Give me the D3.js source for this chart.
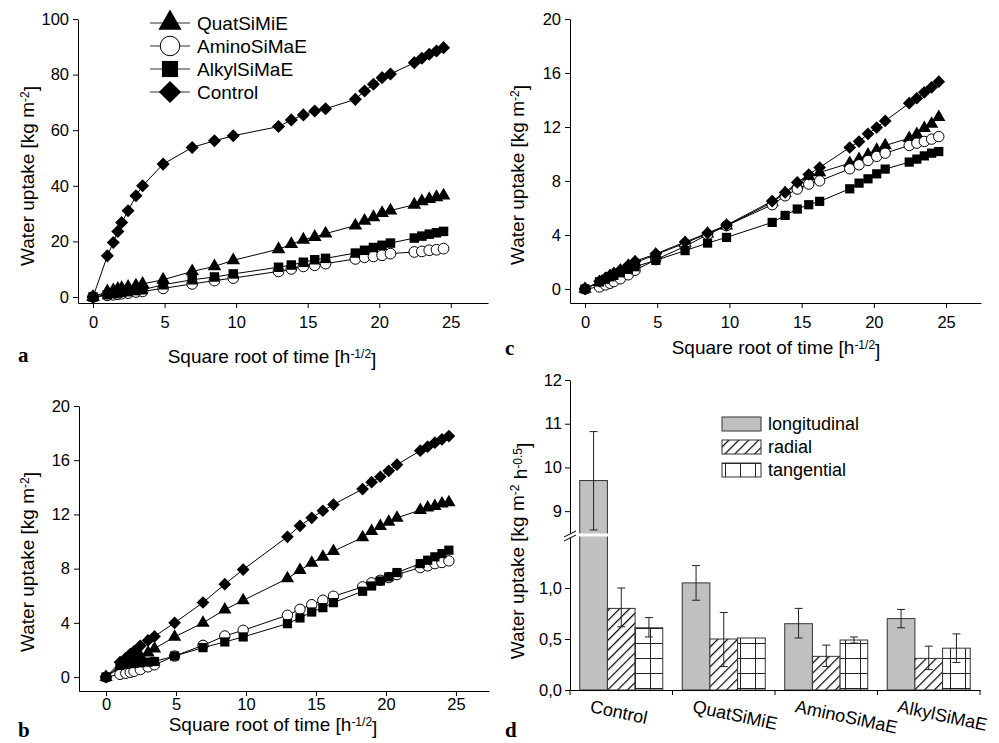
<!DOCTYPE html>
<html>
<head>
<meta charset="utf-8">
<script src="https://cdn.jsdelivr.net/npm/d3@7"></script>
<style>
  body { margin: 0; background: #fff; }
  svg { font-family: "Liberation Sans", Arial, sans-serif; }
</style>
</head>
<body>
<div id="chart"></div>
<script>
// square root of time, same sampling in panels a-c
var sqrtTime = [0, 1, 1.414, 1.732, 2, 2.449, 3, 3.464, 4.899, 6.928, 8.485, 9.798, 12.961, 13.856,
    14.697, 15.492, 16.248, 18.33, 18.974, 19.596, 20.199, 20.785, 22.45, 22.978, 23.495, 24, 24.495];

// panel a (longitudinal)
var aQuat = [0, 2.0, 2.4, 2.9, 3.2, 3.6, 4.1, 4.7, 6.2, 9.2, 11.0, 13.2, 17.2, 19.0, 20.6, 21.6, 22.8, 25.7, 27.4, 28.7, 30.2, 31.1, 33.2, 34.4, 35.2, 35.9, 36.5];
var aAmino = [0, 0.6, 0.8, 1.0, 1.2, 1.4, 1.8, 2.0, 3.1, 4.7, 5.9, 6.8, 9.2, 10.1, 11.0, 11.4, 12.0, 13.7, 14.3, 14.6, 15.0, 15.6, 16.2, 16.4, 16.8, 17.0, 17.4];
var aAlkyl = [0, 0.8, 1.2, 1.4, 1.7, 1.9, 2.3, 2.6, 4.4, 6.2, 7.2, 8.3, 10.7, 11.5, 12.5, 13.4, 13.9, 15.8, 16.8, 17.8, 18.6, 19.4, 21.2, 21.9, 22.6, 23.1, 23.6];
var aControl = [0, 14.8, 19.6, 23.6, 26.8, 31.0, 36.4, 40.0, 47.8, 53.8, 56.2, 58.0, 61.3, 63.7, 65.5, 66.9, 67.7, 71.1, 74.1, 76.5, 78.9, 80.2, 84.3, 85.9, 87.3, 88.5, 89.7];

// panel b (radial)
var bQuat = [0, 0.7, 0.95, 1.15, 1.3, 1.55, 1.8, 2.1, 2.96, 4.0, 4.97, 5.66, 7.27, 7.88, 8.42, 8.87, 9.29, 10.3, 10.76, 11.13, 11.45, 11.75, 12.32, 12.5, 12.6, 12.8, 12.88];
var bAmino = [0, 0.2, 0.28, 0.35, 0.42, 0.55, 0.75, 0.9, 1.55, 2.34, 3.03, 3.45, 4.56, 5.0, 5.34, 5.67, 5.96, 6.65, 6.95, 7.14, 7.34, 7.56, 8.08, 8.2, 8.37, 8.45, 8.57];
var bAlkyl = [0, 0.85, 0.95, 1.0, 1.0, 1.05, 1.1, 1.15, 1.55, 2.17, 2.59, 2.96, 3.94, 4.36, 4.8, 5.12, 5.49, 6.33, 6.72, 7.09, 7.39, 7.71, 8.37, 8.62, 8.87, 9.11, 9.36];
var bControl = [0, 1.1, 1.4, 1.7, 1.9, 2.3, 2.7, 3.0, 4.0, 5.5, 6.85, 7.93, 10.35, 11.16, 11.75, 12.27, 12.73, 13.87, 14.38, 14.78, 15.22, 15.67, 16.7, 17.0, 17.29, 17.54, 17.78];

// panel c (tangential)
var cQuat = [0, 0.5, 0.75, 0.95, 1.1, 1.35, 1.7, 1.95, 2.54, 3.4, 4.09, 4.69, 6.41, 7.1, 7.72, 8.34, 8.63, 9.32, 9.62, 9.94, 10.3, 10.63, 11.17, 11.47, 11.91, 12.23, 12.73];
var cAmino = [0, 0.15, 0.3, 0.42, 0.55, 0.75, 1.05, 1.38, 2.17, 3.16, 4.02, 4.69, 6.24, 6.9, 7.4, 7.77, 8.01, 8.9, 9.2, 9.52, 9.82, 10.06, 10.63, 10.8, 10.93, 11.1, 11.29];
var cAlkyl = [0, 0.52, 0.72, 0.9, 1.0, 1.2, 1.45, 1.65, 2.12, 2.84, 3.4, 3.82, 4.93, 5.45, 5.92, 6.24, 6.49, 7.42, 7.84, 8.16, 8.53, 8.88, 9.4, 9.62, 9.86, 10.06, 10.18];
var cControl = [0, 0.57, 0.8, 1.0, 1.15, 1.4, 1.75, 2.05, 2.6, 3.48, 4.14, 4.73, 6.51, 7.15, 7.89, 8.48, 9.0, 10.48, 10.92, 11.49, 11.96, 12.45, 13.76, 14.13, 14.57, 14.94, 15.36];

var seriesNames = ["QuatSiMiE", "AminoSiMaE", "AlkylSiMaE", "Control"];
var xTicks = [0, 5, 10, 15, 20, 25];

// panel d (water uptake coefficients)
var categories = ["Control", "QuatSiMiE", "AminoSiMaE", "AlkylSiMaE"];
var directions = ["longitudinal", "radial", "tangential"];
var longitudinal = [9.70, 1.05, 0.65, 0.70];
var longLow = [8.57, 0.88, 0.51, 0.61];
var longHigh = [10.82, 1.22, 0.80, 0.79];
var radial = [0.80, 0.50, 0.33, 0.31];
var radialLow = [0.62, 0.23, 0.23, 0.20];
var radialHigh = [1.00, 0.76, 0.44, 0.43];
var tangential = [0.61, 0.51, 0.49, 0.41];
var tangLow = [0.52, 0.51, 0.46, 0.27];
var tangHigh = [0.71, 0.51, 0.52, 0.55];
var lowTicks = [0, 0.5, 1.0];
var highTicks = [9, 10, 11, 12];

var svg = d3.select("#chart").append("svg")
    .attr("width", 999)
    .attr("height", 743);

var defs = svg.append("defs");
var hatch = defs.append("pattern")
    .attr("id", "hatch")
    .attr("patternUnits", "userSpaceOnUse")
    .attr("width", 7).attr("height", 7)
    .attr("patternTransform", "rotate(45)");
hatch.append("rect").attr("width", 7).attr("height", 7).attr("fill", "#fff");
hatch.append("line").attr("x1", 0.6).attr("y1", 0).attr("x2", 0.6).attr("y2", 7)
    .attr("stroke", "#000").attr("stroke-width", 1.2);

var grid = defs.append("pattern")
    .attr("id", "grid")
    .attr("patternUnits", "userSpaceOnUse")
    .attr("x", 5).attr("y", 13)
    .attr("width", 15).attr("height", 15);
grid.append("rect").attr("width", 15).attr("height", 15).attr("fill", "#fff");
grid.append("path").attr("d", "M0.5,0V15M0,0.5H15")
    .attr("stroke", "#222").attr("stroke-width", 1).attr("fill", "none");

function marker(sel, name, size) {
    if (name == "QuatSiMiE") {
        sel.attr("d", d3.symbol().type(d3.symbolTriangle).size(size * 0.9))
            .attr("fill", "#000");
    } else if (name == "AminoSiMaE") {
        sel.attr("d", d3.symbol().type(d3.symbolCircle).size(size))
            .attr("fill", "#fff").attr("stroke", "#000").attr("stroke-width", 1);
    } else if (name == "AlkylSiMaE") {
        sel.attr("d", d3.symbol().type(d3.symbolSquare).size(size))
            .attr("fill", "#000");
    } else {
        sel.attr("d", d3.symbol().type(d3.symbolSquare).size(size * 0.95))
            .attr("fill", "#000");
    }
}

function superLabel(text, parts) {
    // parts: [base, sup, base, sup, ...]
    parts.forEach(function (p, i) {
        if (i % 2 == 0) {
            text.append("tspan").attr("dy", i == 0 ? 0 : "0.45em").text(p);
        } else {
            text.append("tspan").attr("dy", "-0.45em").attr("font-size", "12px").text(p);
        }
    });
}

function linePanel(o) {
    var x = d3.scaleLinear().domain(o.xDomain).range(o.xRange);
    var y = d3.scaleLinear().domain(o.yDomain).range(o.yRange);
    var g = svg.append("g");

    g.append("g")
        .attr("transform", "translate(0," + o.yRange[0] + ")")
        .call(d3.axisBottom(x).tickValues(xTicks).tickSize(5).tickSizeOuter(0).tickPadding(o.xPad))
        .call(styleAxis);

    g.append("g")
        .attr("transform", "translate(" + o.xRange[0] + ",0)")
        .call(d3.axisLeft(y).tickValues(o.yTicks).tickSize(5).tickSizeOuter(0).tickPadding(4))
        .call(styleAxis);

    var line = d3.line().x(function (d, i) { return x(sqrtTime[i]); }).y(function (d) { return y(d); });

    o.series.forEach(function (vals, k) {
        var name = seriesNames[k];
        g.append("path").datum(vals)
            .attr("d", line)
            .attr("fill", "none")
            .attr("stroke", "#000")
            .attr("stroke-width", 1);
        g.selectAll(null).data(vals).enter().append("path")
            .attr("transform", function (d, i) {
                var t = "translate(" + x(sqrtTime[i]) + "," + y(d) + ")";
                return name == "Control" ? t + " rotate(45)" : t;
            })
            .call(marker, name, o.markerSize);
    });

    var xl = g.append("text")
        .attr("x", o.xLabel[0]).attr("y", o.xLabel[1])
        .attr("text-anchor", "middle")
        .attr("font-size", "19px");
    superLabel(xl, ["Square root of time [h", "-1/2", "]"]);

    var yl = g.append("text")
        .attr("transform", "translate(" + o.yLabel[0] + "," + o.yLabel[1] + ") rotate(-90)")
        .attr("text-anchor", "middle")
        .attr("font-size", "19px");
    superLabel(yl, ["Water uptake [kg m", "-2", "]"]);

    svg.append("text")
        .attr("x", o.letter[1]).attr("y", o.letter[2])
        .attr("font-family", "Liberation Serif, Times New Roman, serif")
        .attr("font-weight", "bold")
        .attr("font-size", "21px")
        .text(o.letter[0]);
    return g;
}

function styleAxis(ax) {
    ax.select(".domain").attr("stroke", "#000");
    ax.selectAll(".tick line").attr("stroke", "#000");
    ax.selectAll(".tick text").attr("font-size", "16.5px").attr("fill", "#000")
        .attr("font-family", "Liberation Sans, Arial, sans-serif");
}

// panel a
var ga = linePanel({
    xDomain: [-1.05, 27.6], xRange: [78, 488],
    yDomain: [-2.16, 100], yRange: [303, 19],
    yTicks: [0, 20, 40, 60, 80, 100],
    series: [aQuat, aAmino, aAlkyl, aControl],
    markerSize: 90, xPad: 8,
    xLabel: [272, 363], yLabel: [34, 176], letter: ["a", 18, 362]
});

// legend a
var legY = [23, 46, 69, 92];
seriesNames.forEach(function (name, i) {
    ga.append("line")
        .attr("x1", 150).attr("x2", 190)
        .attr("y1", legY[i]).attr("y2", legY[i])
        .attr("stroke", "#333").attr("stroke-width", 1.2);
    ga.append("path")
        .attr("transform", "translate(170," + legY[i] + ")" + (name == "Control" ? " rotate(45)" : ""))
        .call(marker, name, name == "AminoSiMaE" ? 300 : 260);
    ga.append("text")
        .attr("x", 197).attr("y", legY[i])
        .attr("dy", "0.35em")
        .attr("font-size", "19px")
        .text(name);
});

// panel b
linePanel({
    xDomain: [-1.93, 27.36], xRange: [79, 489],
    yDomain: [-1.03, 20], yRange: [691, 406],
    yTicks: [0, 4, 8, 12, 16, 20],
    series: [bQuat, bAmino, bAlkyl, bControl],
    markerSize: 85, xPad: 2,
    xLabel: [273, 731], yLabel: [34, 562], letter: ["b", 18, 737]
});

// panel c
linePanel({
    xDomain: [-1.04, 27.42], xRange: [570, 981],
    yDomain: [-1.04, 20], yRange: [303, 19],
    yTicks: [0, 4, 8, 12, 16, 20],
    series: [cQuat, cAmino, cAlkyl, cControl],
    markerSize: 85, xPad: 8,
    xLabel: [776, 354], yLabel: [524, 175], letter: ["c", 505, 355]
});

// panel d: broken-axis bar chart
var gd = svg.append("g");
var x0 = d3.scaleBand().domain(categories).range([570, 980]).paddingInner(0.19).paddingOuter(0.095);
var x1 = d3.scaleBand().domain(directions).range([0, x0.bandwidth()]);
var yLo = d3.scaleLinear().domain([0, 1.5]).range([690, 537]);
var yHi = d3.scaleLinear().domain([8.5, 12]).range([533, 380]);
var breakLo = 1.5;
function yv(v) { return v > breakLo ? yHi(v) : yLo(v); }

var fills = { longitudinal: "#c0c0c0", radial: "url(#hatch)", tangential: "url(#grid)" };
var vals = { longitudinal: longitudinal, radial: radial, tangential: tangential };
var lows = { longitudinal: longLow, radial: radialLow, tangential: tangLow };
var highs = { longitudinal: longHigh, radial: radialHigh, tangential: tangHigh };

var bars = [];
categories.forEach(function (c, i) {
    directions.forEach(function (d) {
        bars.push({ cat: c, dir: d, v: vals[d][i], lo: lows[d][i], hi: highs[d][i] });
    });
});

gd.selectAll("rect.bar").data(bars).enter().append("rect")
    .attr("class", "bar")
    .attr("x", function (d) { return x0(d.cat) + x1(d.dir); })
    .attr("width", x1.bandwidth())
    .attr("y", function (d) { return yv(d.v); })
    .attr("height", function (d) { return 690 - yv(d.v); })
    .attr("fill", function (d) { return fills[d.dir]; })
    .attr("stroke", "#333")
    .attr("stroke-width", 1);

// error bars
var eb = gd.selectAll("g.err").data(bars.filter(function (d) { return d.hi > d.lo; })).enter().append("g")
    .attr("transform", function (d) { return "translate(" + (x0(d.cat) + x1(d.dir) + x1.bandwidth() / 2) + ",0)"; })
    .attr("stroke", "#222").attr("stroke-width", 1);
eb.append("line").attr("y1", function (d) { return yv(d.lo); }).attr("y2", function (d) { return yv(d.hi); });
eb.append("line").attr("x1", -4).attr("x2", 4).attr("y1", function (d) { return yv(d.lo); }).attr("y2", function (d) { return yv(d.lo); });
eb.append("line").attr("x1", -4).attr("x2", 4).attr("y1", function (d) { return yv(d.hi); }).attr("y2", function (d) { return yv(d.hi); });

// axes
gd.append("g").attr("transform", "translate(570,0)")
    .call(d3.axisLeft(yLo).tickValues(lowTicks).tickSize(5).tickSizeOuter(0).tickPadding(3)
        .tickFormat(function (d) { return d3.format(".1f")(d).replace(".", ","); }))
    .call(styleAxis);
gd.append("g").attr("transform", "translate(570,0)")
    .call(d3.axisLeft(yHi).tickValues(highTicks).tickSize(5).tickSizeOuter(0).tickPadding(3)
        .tickFormat(d3.format("d")))
    .call(styleAxis);
var xb = gd.append("g").attr("transform", "translate(0,690)")
    .call(d3.axisBottom(x0).tickSize(0).tickSizeOuter(0).tickFormat(""));
xb.select(".domain").attr("stroke", "#000");
var bounds = [570].concat(categories.map(function (c) { return x0(c) + x0.bandwidth() + x0.step() * 0.095; }));
gd.selectAll("line.bound").data(bounds).enter().append("line")
    .attr("x1", function (d) { return d; }).attr("x2", function (d) { return d; })
    .attr("y1", 690).attr("y2", 695)
    .attr("stroke", "#000");

// the break
gd.append("rect").attr("x", 562).attr("y", 533.5).attr("width", 50).attr("height", 3).attr("fill", "#fff");
gd.append("path").attr("d", "M564,537L576,531M564,541L576,535")
    .attr("stroke", "#000").attr("stroke-width", 1);

// category labels
categories.forEach(function (c) {
    var cx = x0(c) + x0.bandwidth() / 2 - 32;
    gd.append("text")
        .attr("transform", "translate(" + cx + ",712) rotate(12)")
        .attr("font-size", "18px")
        .text(c);
});

// y label
var yld = gd.append("text")
    .attr("transform", "translate(524,551) rotate(-90)")
    .attr("text-anchor", "middle")
    .attr("font-size", "19px");
superLabel(yld, ["Water uptake [kg m", "-2", " h", "-0.5", "]"]);

svg.append("text")
    .attr("x", 505).attr("y", 737)
    .attr("font-family", "Liberation Serif, Times New Roman, serif")
    .attr("font-weight", "bold")
    .attr("font-size", "21px")
    .text("d");

// legend d
var legDY = [424, 447, 470];
directions.forEach(function (d, i) {
    gd.append("rect")
        .attr("x", 722).attr("y", legDY[i] - 7)
        .attr("width", 39).attr("height", 14)
        .attr("fill", fills[d])
        .attr("stroke", "#333");
    gd.append("text")
        .attr("x", 768).attr("y", legDY[i])
        .attr("dy", "0.35em")
        .attr("font-size", "18px")
        .text(d);
});
</script>
</body>
</html>
